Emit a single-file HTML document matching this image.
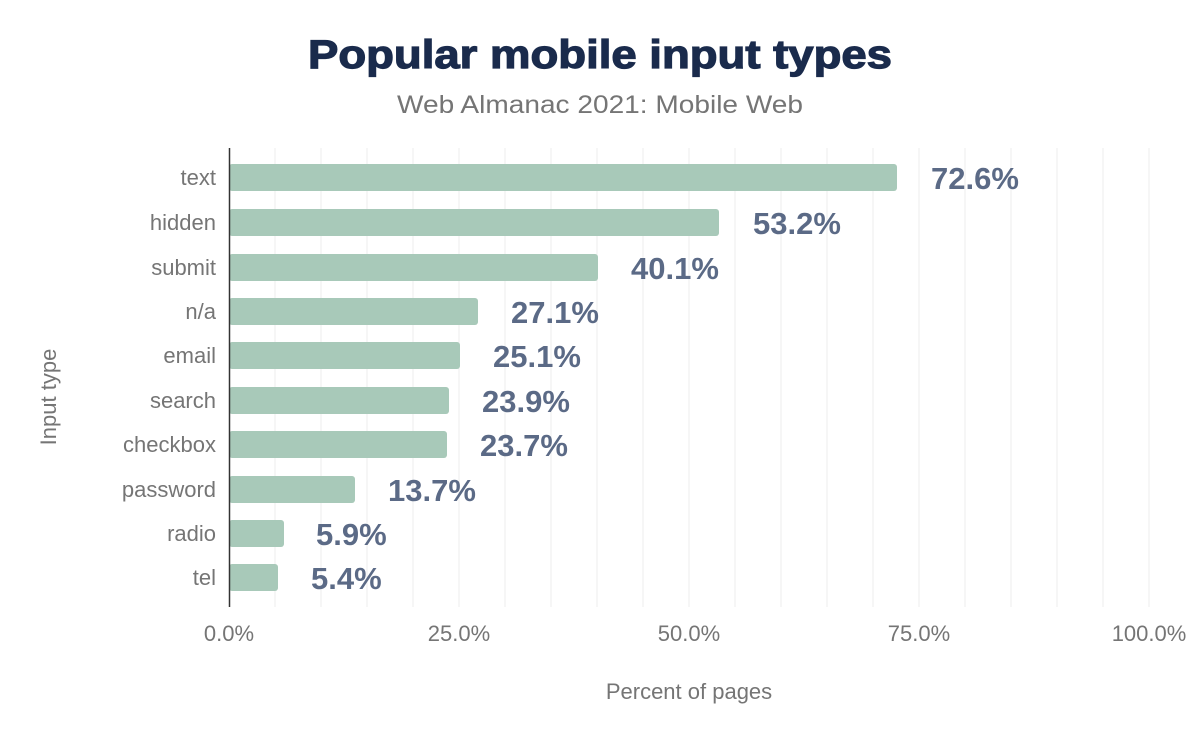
<!DOCTYPE html>
<html><head><style>body{margin:0;background:#fff}svg{display:block}</style></head><body>
<svg width="1200" height="742" xmlns="http://www.w3.org/2000/svg" font-family="Liberation Sans, Arial, sans-serif">
<rect width="1200" height="742" fill="#fff"/>
<text x="308" y="68" textLength="584" lengthAdjust="spacingAndGlyphs" font-size="40" font-weight="bold" fill="#1a2b4c" stroke="#1a2b4c" stroke-width="1.2">Popular mobile input types</text>
<text x="397" y="113" textLength="406" lengthAdjust="spacingAndGlyphs" font-size="25" fill="#757575">Web Almanac 2021: Mobile Web</text>
<g stroke="#eeeeee" stroke-width="1">
<line x1="275" y1="148" x2="275" y2="607"/><line x1="321" y1="148" x2="321" y2="607"/><line x1="367" y1="148" x2="367" y2="607"/><line x1="413" y1="148" x2="413" y2="607"/><line x1="459" y1="148" x2="459" y2="607"/><line x1="505" y1="148" x2="505" y2="607"/><line x1="551" y1="148" x2="551" y2="607"/><line x1="597" y1="148" x2="597" y2="607"/><line x1="643" y1="148" x2="643" y2="607"/><line x1="689" y1="148" x2="689" y2="607"/><line x1="735" y1="148" x2="735" y2="607"/><line x1="781" y1="148" x2="781" y2="607"/><line x1="827" y1="148" x2="827" y2="607"/><line x1="873" y1="148" x2="873" y2="607"/><line x1="919" y1="148" x2="919" y2="607"/><line x1="965" y1="148" x2="965" y2="607"/><line x1="1011" y1="148" x2="1011" y2="607"/><line x1="1057" y1="148" x2="1057" y2="607"/><line x1="1103" y1="148" x2="1103" y2="607"/><line x1="1149" y1="148" x2="1149" y2="607"/>
</g>
<g fill="#a8c9b9">
<rect x="229" y="164" width="668" height="27" rx="3"/>
<rect x="229" y="209" width="490" height="27" rx="3"/>
<rect x="229" y="254" width="369" height="27" rx="3"/>
<rect x="229" y="298" width="249" height="27" rx="3"/>
<rect x="229" y="342" width="231" height="27" rx="3"/>
<rect x="229" y="387" width="220" height="27" rx="3"/>
<rect x="229" y="431" width="218" height="27" rx="3"/>
<rect x="229" y="476" width="126" height="27" rx="3"/>
<rect x="229" y="520" width="55" height="27" rx="3"/>
<rect x="229" y="564" width="49" height="27" rx="3"/>
</g>
<line x1="229.5" y1="148" x2="229.5" y2="607" stroke="#333" stroke-width="1.5"/>
<g font-size="22" fill="#757575" text-anchor="end">
<text x="216" y="185">text</text><text x="216" y="230">hidden</text><text x="216" y="275">submit</text><text x="216" y="319">n/a</text><text x="216" y="363">email</text><text x="216" y="408">search</text><text x="216" y="452">checkbox</text><text x="216" y="497">password</text><text x="216" y="541">radio</text><text x="216" y="585">tel</text>
</g>
<g font-size="31" font-weight="bold" fill="#5b6a86">
<text x="931" y="189">72.6%</text><text x="753" y="234">53.2%</text><text x="631" y="279">40.1%</text><text x="511" y="323">27.1%</text><text x="493" y="367">25.1%</text><text x="482" y="412">23.9%</text><text x="480" y="456">23.7%</text><text x="388" y="501">13.7%</text><text x="316" y="545">5.9%</text><text x="311" y="589">5.4%</text>
</g>
<g font-size="22" fill="#757575" text-anchor="middle">
<text x="229" y="641">0.0%</text><text x="459" y="641">25.0%</text><text x="689" y="641">50.0%</text><text x="919" y="641">75.0%</text><text x="1149" y="641">100.0%</text>
</g>
<text x="689" y="699" text-anchor="middle" font-size="22" fill="#757575">Percent of pages</text>
<text transform="translate(56,397) rotate(-90)" text-anchor="middle" font-size="22" fill="#757575">Input type</text>
</svg>
</body></html>
